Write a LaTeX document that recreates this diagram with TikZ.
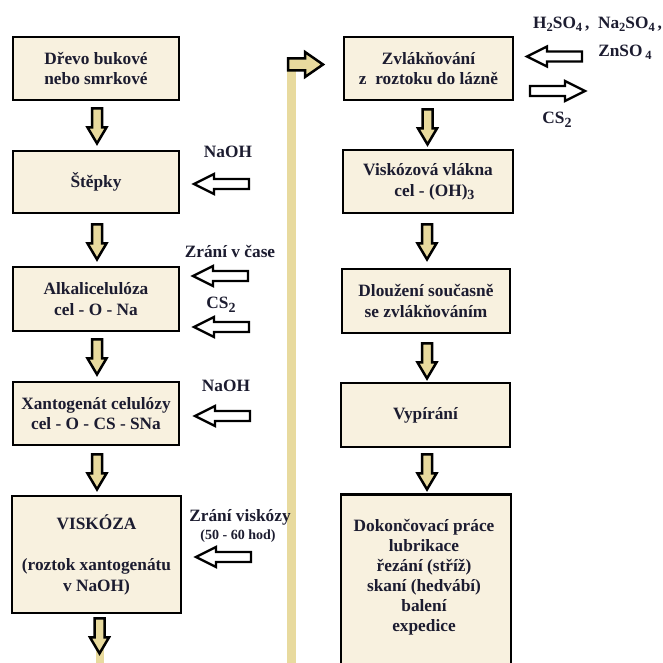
\documentclass[tikz,border=0pt]{standalone}
\usepackage{fontspec}
\setmainfont{Liberation Serif}
\usetikzlibrary{calc}
\definecolor{boxfill}{HTML}{F8F1DF}
\definecolor{tan}{HTML}{E8DA9E}
\definecolor{ink}{HTML}{1C1C30}
\newcommand\chsub[1]{\raisebox{-0.45ex}{\fontsize{14}{14}\selectfont #1}}
\newcommand\chsubs[1]{\raisebox{-0.35ex}{\fontsize{12.5}{12.5}\selectfont #1}}
\tikzset{
  stepbox/.style={draw=black, line width=2.8pt, fill=boxfill, text=ink, align=center,
    font=\bfseries\fontsize{17.3}{20.7}\selectfont, inner sep=0pt},
  lbl/.style={text=ink, align=center, font=\bfseries\fontsize{17.3}{20}\selectfont, inner sep=0pt},
  smalllbl/.style={text=ink, align=center, font=\bfseries\fontsize{14}{15}\selectfont, inner sep=0pt},
  arrbody/.style={draw=black, line width=2.5pt, line join=miter, fill=tan},
  sidebody/.style={draw=black, line width=2.3pt, line join=miter, fill=white},
  pics/darr/.style={code={
    \draw[arrbody] (-5,0) -- (5,0) -- (5,19) -- (9.5,19) -- (0,35) -- (-9.5,19) -- (-5,19) -- cycle;}},
  pics/larr/.style={code={
    \draw[sidebody] (0,0) -- (20,-10) -- (20,-5) -- (55,-5) -- (55,5) -- (20,5) -- (20,10) -- cycle;}},
  pics/rarr/.style={code={
    \draw[sidebody] (0,0) -- (-20,-10) -- (-20,-5) -- (-55,-5) -- (-55,5) -- (-20,5) -- (-20,10) -- cycle;}},
}
\begin{document}
\begin{tikzpicture}[x=1pt,y=-1pt]
\clip (0,0) rectangle (663,663);
\useasboundingbox (0,0) rectangle (663,663);
\fill[white] (0,0) rectangle (663,663);

% tall return bar
\fill[tan] (287,70) rectangle (296,663);
\coordinate (bartop) at (288,64.5);
\draw[arrbody] (bartop) ++(0,-6) -- ++(17,0) -- ++(0,-6.5) -- (323,64.5) -- (305,77) -- (305,70.5) -- (288,70.5) -- cycle;

% left column
\node[stepbox, minimum width=166pt, minimum height=63pt] (L1) at (96,68.5) {Dřevo bukové\\nebo smrkové};
\node[stepbox, minimum width=166pt, minimum height=62pt] (L2) at (96,182) {Štěpky};
\node[stepbox, minimum width=166pt, minimum height=64pt] (L3) at (96,299) {Alkalicelulóza\\cel - O - Na};
\node[stepbox, minimum width=166pt, minimum height=63pt] (L4) at (96,413.5) {Xantogenát celulózy\\cel - O - CS - SNa};
\node[stepbox, minimum width=169pt, minimum height=117pt] (L5) at (96.5,554.5) {VISKÓZA\\[20.7pt](roztok xantogenátu\\v NaOH)};

% right column
\node[stepbox, minimum width=169pt, minimum height=63pt] (R1) at (428.5,68.5) {Zvlákňování\\z\ \ roztoku do lázně};
\node[stepbox, minimum width=170pt, minimum height=63pt] (R2) at (428,181.5) {Viskózová vlákna\\\ \ \ cel - (OH)\chsub{3}};
\node[stepbox, minimum width=168pt, minimum height=64pt] (R3) at (426,301) {Dloužení současně\\se zvlákňováním};
\node[stepbox, minimum width=169pt, minimum height=64pt] (R4) at (425.5,415) {Vypírání};
\node[stepbox, minimum width=170pt, minimum height=200pt, anchor=north] (R5) at (426,493) {};
\node[lbl, align=center] (R5t) at (424,577.5) {Dokončovací práce\\lubrikace\\řezání (stříž)\\skaní (hedvábí)\\balení\\expedice};

% down arrows
\pic at ($(L1.south)+(1,7)$) {darr};
\pic at ($(L2.south)+(1,10)$) {darr};
\pic at ($(L3.south)+(1,7)$) {darr};
\pic at ($(L4.south)+(1,8)$) {darr};
\fill[tan] (96,640) rectangle (104,663);
\pic at ($(L5.south)+(3,4)$) {darr};
\pic at ($(R1.south)+(-1,8)$) {darr};
\pic at ($(R2.south)+(-1,10)$) {darr};
\pic at ($(R3.south)+(1,9)$) {darr};
\pic at ($(R4.south)+(1.5,6)$) {darr};

% side inputs
\node[lbl] (n1) at (228,152) {NaOH};
\coordinate (a1) at (194,184);
\pic at (a1) {larr};
\node[lbl] (n2) at (230,251) {Zrání v čase};
\coordinate (a2) at (193,276);
\pic at (a2) {larr};
\node[lbl] (n3) at (221,305) {CS\chsub{2}};
\coordinate (a3) at (194,327);
\pic at (a3) {larr};
\node[lbl] (n4) at (226,386) {NaOH};
\coordinate (a4) at (195,416);
\pic at (a4) {larr};
\node[lbl] (n5) at (240,517) {Zrání viskózy};
\node[smalllbl] (n5b) at (238,536) {(50 - 60 hod)};
\coordinate (a5) at (196,557);
\pic at (a5) {larr};

% right side
\node[lbl, anchor=west] (n6) at (533,24) {H\chsubs{2}SO\chsubs{4}\,,\ \ Na\chsubs{2}SO\chsubs{4}\,,};
\node[lbl] (n7) at (625,52) {ZnSO\,\chsubs{4}};
\coordinate (a6) at (527,56.5);
\pic at (a6) {larr};
\coordinate (a7) at (585,91);
\pic at (a7) {rarr};
\node[lbl] (n8) at (557,120) {CS\chsub{2}};
\end{tikzpicture}
\end{document}
